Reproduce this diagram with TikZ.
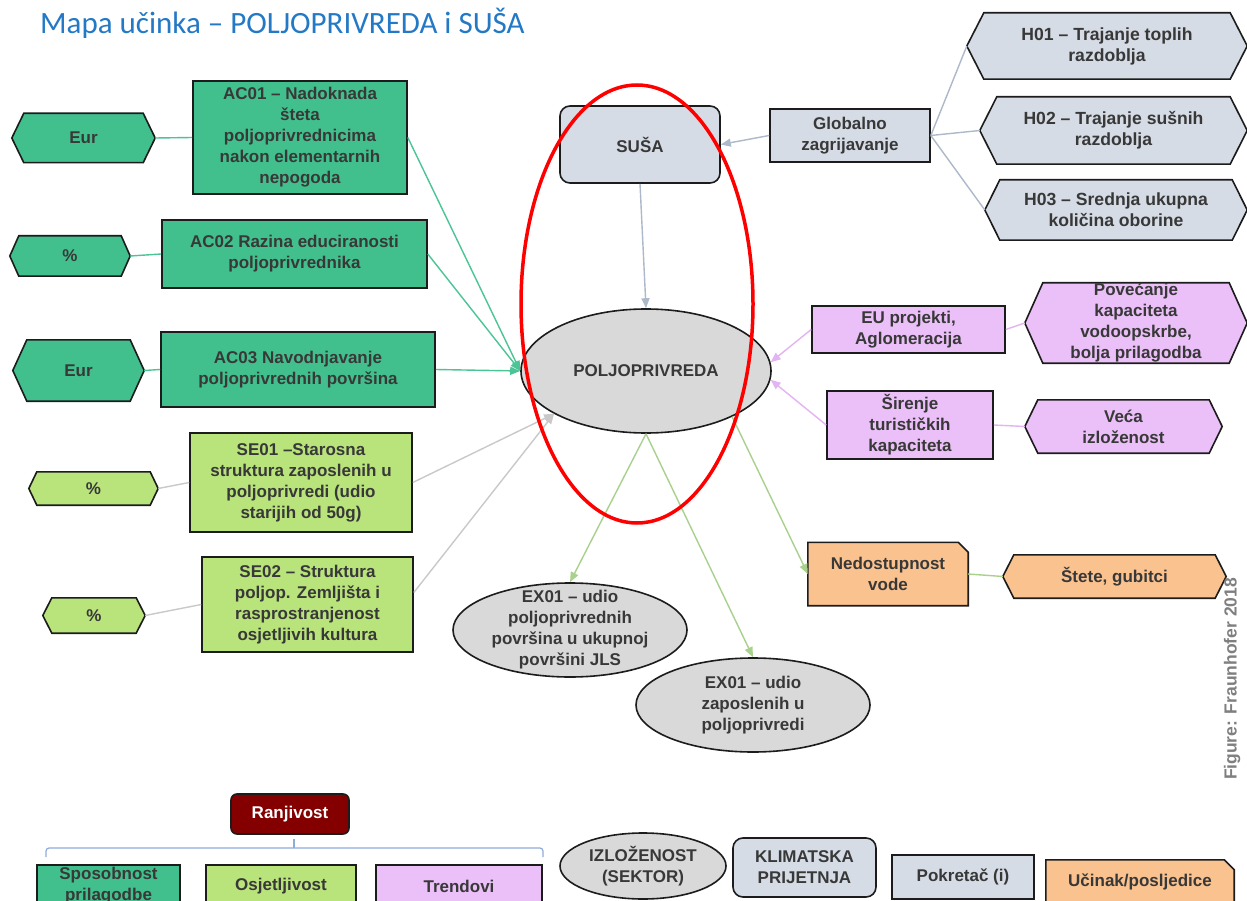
\documentclass[tikz,border=0pt]{standalone}
\usepackage{fontspec}
\setmainfont{Liberation Sans}
\newfontfamily\titlefont{Carlito}
\usetikzlibrary{arrows.meta,backgrounds,shapes.geometric}

\definecolor{acgreen}{HTML}{41C08D}
\definecolor{segreen}{HTML}{B9E37B}
\definecolor{hazard}{HTML}{D6DCE5}
\definecolor{sector}{HTML}{D9D9D9}
\definecolor{trend}{HTML}{EBC0F8}
\definecolor{impact}{HTML}{F9C28F}
\definecolor{vulner}{HTML}{840000}
\definecolor{ink}{HTML}{383838}
\definecolor{edge}{HTML}{1C1C1C}
\definecolor{titleblue}{HTML}{2479C6}
\definecolor{lnteal}{HTML}{4CC596}
\definecolor{lngray}{HTML}{C9C9C9}
\definecolor{lnblue}{HTML}{ADB9CA}
\definecolor{lnpurple}{HTML}{E4B3F4}
\definecolor{lngreen}{HTML}{A9D18E}
\definecolor{bracecol}{HTML}{8FAADC}
\definecolor{creditgray}{HTML}{7F7F7F}

\tikzset{
  lbltext/.style={font=\bfseries\fontsize{17}{21}\selectfont, text=ink, align=center, inner sep=0pt},
  bigtext/.style={font=\bfseries\fontsize{17.6}{21}\selectfont},
  sz/.style n args={2}{minimum width=#1pt, minimum height=#2pt},
  boxnode/.style={lbltext, rectangle, draw=edge, line width=1.6pt},
  rboxnode/.style={boxnode, rounded corners=10pt},
  hexnode/.style={lbltext, rectangle},
  ovalnode/.style={lbltext, ellipse, draw=edge, line width=1.6pt, fill=sector},
  conn/.style={line width=1.4pt},
  arr/.style={-{Triangle[length=10pt,width=8pt]}},
  tealln/.style={conn, draw=lnteal, color=lnteal},
  grayln/.style={conn, draw=lngray, color=lngray},
  blueln/.style={conn, draw=lnblue, color=lnblue},
  purpln/.style={conn, draw=lnpurple, color=lnpurple},
  greenln/.style={conn, draw=lngreen, color=lngreen},
  outline/.style={draw=edge, line width=1.6pt, line join=miter},
}

% hexagon outline behind a rectangular node: name, fill, slant
\newcommand\hexshape[3]{%
  \begin{pgfonlayer}{background}
    \path[outline, fill=#2] (#1.west) -- ([xshift=#3pt]#1.north west)
      -- ([xshift=-#3pt]#1.north east) -- (#1.east)
      -- ([xshift=-#3pt]#1.south east) -- ([xshift=#3pt]#1.south west) -- cycle;
  \end{pgfonlayer}}

% box with the top right corner cut off: name, fill
\newcommand\snipshape[2]{%
  \begin{pgfonlayer}{background}
    \path[outline, fill=#2] (#1.south west) -- (#1.north west)
      -- ([xshift=-10pt]#1.north east) -- ([yshift=-10pt]#1.north east)
      -- (#1.south east) -- cycle;
  \end{pgfonlayer}}

\begin{document}
\begin{tikzpicture}[x=1pt,y=-1pt]
\useasboundingbox (0,0) rectangle (1247,901);
\begin{pgfonlayer}{background}
  \fill[white] (0,0) rectangle (1247,901);
\end{pgfonlayer}

% title
\node[anchor=base west, inner sep=0pt, font=\titlefont\fontsize{31}{37}\selectfont,
      text=titleblue] (title) at (40,34) {Mapa učinka – POLJOPRIVREDA i SUŠA};

% adaptive capacity
\node[boxnode, fill=acgreen, sz={214}{113}] (ac01) at (300,137.5)
  {AC01 – Nadoknada\\šteta\\poljoprivrednicima\\nakon elementarnih\\nepogoda};
\node[hexnode, sz={143}{49}] (eur1) at (83.5,138) {Eur};
\hexshape{eur1}{acgreen}{12}
\node[boxnode, fill=acgreen, sz={265}{68}] (ac02) at (294.5,254)
  {AC02 Razina educiranosti\\poljoprivrednika};
\node[hexnode, sz={120}{40}] (pct1) at (70,256) {\%};
\hexshape{pct1}{acgreen}{9}
\node[boxnode, fill=acgreen, sz={274}{75}] (ac03) at (298,369.5)
  {AC03 Navodnjavanje\\poljoprivrednih površina};
\node[hexnode, sz={131}{61}] (eur2) at (78.5,370.5) {Eur};
\hexshape{eur2}{acgreen}{14}

% sensitivity
\node[boxnode, fill=segreen, sz={222}{99}] (se01) at (301,482.5)
  {SE01 –Starosna\\struktura zaposlenih u\\poljoprivredi (udio\\starijih od 50g)};
\node[hexnode, sz={129}{33}] (pct2) at (93.5,488.5) {\%};
\hexshape{pct2}{segreen}{8}
\node[boxnode, fill=segreen, sz={211}{95}] (se02) at (307.5,604.5)
  {SE02 – Struktura\\poljop. Zemljišta i\\rasprostranjenost\\osjetljivih kultura};
\node[hexnode, sz={102}{35}] (pct3) at (94,615.5) {\%};
\hexshape{pct3}{segreen}{9}

% hazard and sector
\node[rboxnode, fill=hazard, sz={160}{77}] (susa) at (640,144.5) {SUŠA};
\node[ovalnode, sz={250}{124}] (polj) at (646,371) {POLJOPRIVREDA};
\node[boxnode, fill=hazard, sz={160}{53}] (glob) at (850,135.5) {Globalno\\zagrijavanje};
\node[hexnode, bigtext, sz={280}{66}] (h01) at (1107,46) {H01 – Trajanje toplih\\razdoblja};
\hexshape{h01}{hazard}{17}
\node[hexnode, bigtext, sz={267}{67}] (h02) at (1113.5,130.5) {H02 – Trajanje sušnih\\razdoblja};
\hexshape{h02}{hazard}{17}
\node[hexnode, bigtext, sz={262}{60}] (h03) at (1116,210) {H03 – Srednja ukupna\\količina oborine};
\hexshape{h03}{hazard}{15}

% trends
\node[boxnode, fill=trend, sz={193}{47}] (eu) at (908.5,329.5) {EU projekti,\\Aglomeracija};
\node[hexnode, sz={222}{80},
      label={[lbltext]center:Povećanje\\kapaciteta\\vodoopskrbe,\\bolja prilagodba}]
  (pov) at (1136,323) {};
\hexshape{pov}{trend}{18}
\node[boxnode, fill=trend, sz={166}{68}] (sir) at (910,425) {Širenje\\turističkih\\kapaciteta};
\node[hexnode, sz={197}{53}] (veca) at (1123.5,426.5) {Veća\\izloženost};
\hexshape{veca}{trend}{13}

% impacts
\node[hexnode, sz={160}{63}] (ned) at (888,574) {Nedostupnost\\vode};
\snipshape{ned}{impact}
\node[hexnode, sz={223}{43}] (stete) at (1114.5,576.5) {Štete, gubitci};
\hexshape{stete}{impact}{11}

% exposure
\node[ovalnode, sz={234}{94},
      label={[lbltext]center:EX01 – udio\\poljoprivrednih\\površina u ukupnoj\\površini JLS}]
  (exa) at (570,630) {};
\node[ovalnode, sz={234}{94},
      label={[lbltext]center:EX01 – udio\\zaposlenih u\\poljoprivredi}]
  (exb) at (753,705) {};

% connectors
\draw[tealln] (eur1.east) -- (ac01.west);
\draw[tealln] (pct1.east) -- (ac02.west);
\draw[tealln] (eur2.east) -- (ac03.west);
\draw[tealln, arr] (ac01.east) -- (polj.west);
\draw[tealln, arr] (ac02.east) -- (polj.west);
\draw[tealln, arr] (ac03.east) -- (polj.west);
\draw[grayln] (pct2.east) -- (se01.west);
\draw[grayln] (pct3.east) -- (se02.west);
\draw[grayln, arr] (se01.east) -- (polj.205);
\draw[grayln, arr] ([yshift=12pt]se02.east) -- (polj.205);
\draw[blueln, arr] (susa.south) -- (polj.north);
\draw[blueln, arr] (glob.west) -- (susa.east);
\draw[blueln] (glob.east) -- (h01.west);
\draw[blueln] (glob.east) -- (h02.west);
\draw[blueln] (glob.east) -- (h03.west);
\draw[purpln, arr] (eu.west) -- (polj.4);
\draw[purpln, arr] (sir.west) -- (polj.-4);
\draw[purpln] (pov.west) -- (eu.east);
\draw[purpln] (veca.west) -- (sir.east);
\draw[greenln, arr] (polj.south) -- (exa.north);
\draw[greenln, arr] (polj.south) -- (exb.north);
\draw[greenln, arr] (polj.-28) -- (ned.west);
\draw[greenln] (ned.east) -- (stete.west);

% highlight around hazard and sector
\node[ellipse, draw=red, line width=3.5pt, sz={232}{438}] (focus) at (637,304) {};

% credit
\node[rotate=90, inner sep=0pt, font=\bfseries\fontsize{17.5}{20}\selectfont,
      text=creditgray] (credit) at (1232,679) {Figure: Fraunhofer 2018};

% legend
\node[rboxnode, rounded corners=6pt, fill=vulner, text=white, sz={118}{40}] (ranj) at (290,814) {Ranjivost};
\draw[bracecol, line width=1.2pt, rounded corners=3pt] (46,857) -- (46,848) -- (543,848) -- (543,857);
\draw[bracecol, line width=1.2pt] (294,848) -- (294,839);
\node[boxnode, fill=acgreen, sz={143}{42}, label={[lbltext]center:Sposobnost\\prilagodbe}]
  (lgac) at (108.5,886) {};
\node[boxnode, fill=segreen, sz={150}{42}] (lgse) at (281,886) {Osjetljivost};
\node[boxnode, fill=trend, sz={166}{42}] (lgtr) at (459,886) {Trendovi};
\node[ovalnode, sz={166}{66}, label={[lbltext]center:IZLOŽENOST\\(SEKTOR)}] (lgex) at (643,866) {};
\node[rboxnode, fill=hazard, sz={143}{59}] (lgkl) at (804.5,867.5) {KLIMATSKA\\PRIJETNJA};
\node[boxnode, fill=hazard, sz={142}{44}] (lgpo) at (963,877) {Pokretač (i)};
\node[hexnode, sz={188}{44}] (lguc) at (1140,882) {Učinak/posljedice};
\snipshape{lguc}{impact}
\end{tikzpicture}
\end{document}
